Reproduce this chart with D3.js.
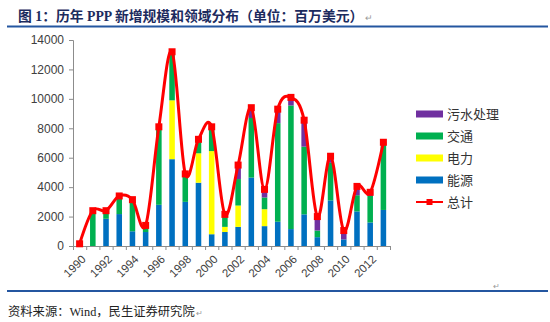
<!DOCTYPE html>
<html>
<head>
<meta charset="utf-8">
<script src="https://cdn.jsdelivr.net/npm/d3@7"></script>
<style>
  html, body { margin: 0; padding: 0; background: #fff; }
  svg { display: block; }
</style>
</head>
<body>
<svg id="chart" width="550" height="322"></svg>
<script>
// Years on the category axis
const years = d3.range(1990, 2014).map(String);

// Annual new PPP investment by sector (USD million)
const energy    = [0, 0, 1850, 2170, 1000, 950, 2800, 5900, 3000, 4300, 800, 950, 1300, 4650, 1350, 1650, 1150, 2150, 600, 3100, 450, 2350, 1600, 2450];
const power     = [0, 0, 0, 0, 0, 0, 0, 4000, 0, 2000, 5650, 350, 1450, 0, 1150, 0, 0, 0, 0, 0, 0, 0, 0, 0];
const transport = [0, 2300, 450, 1200, 2150, 400, 5300, 3300, 1700, 900, 1600, 700, 1800, 4050, 800, 6700, 8400, 4600, 450, 2550, 0, 1100, 1800, 4550];
const sewage    = [0, 0, 0, 0, 0, 0, 0, 0, 200, 0, 0, 100, 900, 650, 500, 900, 550, 1800, 900, 400, 550, 550, 200, 100];
const total     = [150, 2400, 2400, 3400, 3150, 1400, 8100, 13200, 4900, 7250, 8100, 2150, 5500, 9400, 3850, 9300, 10100, 8550, 2000, 6100, 1050, 4050, 3650, 7050];

const yTicks = [0, 2000, 4000, 6000, 8000, 10000, 12000, 14000];
const xLabels = years.filter((d, i) => i % 2 === 0);

const seriesNames = ["能源", "电力", "交通", "污水处理"];
const seriesColors = { "能源": "#0070C0", "电力": "#FFFF00", "交通": "#00B050", "污水处理": "#7030A0" };
const totalName = "总计";

const rows = years.map((y, i) => ({
  year: y,
  "能源": energy[i], "电力": power[i], "交通": transport[i], "污水处理": sewage[i],
  total: total[i]
}));

const svg = d3.select("#chart");
const cjk = "'Noto Sans CJK SC', 'Liberation Serif', serif";
const latin = "'Liberation Sans', Arial, sans-serif";
const serif = "'Liberation Serif', 'Noto Sans CJK SC', serif";

// Title with paragraph mark
const title = svg.append("text")
  .attr("x", 18).attr("y", 21)
  .attr("font-family", serif)
  .attr("font-weight", "bold")
  .attr("font-size", 13.8)
  .attr("fill", "#1c2b5e");
title.append("tspan").text("图 1：历年 PPP 新增规模和领域分布（单位：百万美元）");
title.append("tspan").attr("dx", 2).attr("font-family", latin).attr("font-weight", "normal")
  .attr("font-size", 9).attr("fill", "#999").text("↵");

// Rules
svg.append("line")
  .attr("x1", 7).attr("x2", 548).attr("y1", 26.5).attr("y2", 26.5)
  .attr("stroke", "#2456a0").attr("stroke-width", 1.8);
svg.append("line")
  .attr("x1", 7).attr("x2", 548).attr("y1", 291).attr("y2", 291)
  .attr("stroke", "#2456a0").attr("stroke-width", 1.8);
svg.append("text")
  .attr("x", 493).attr("y", 289)
  .attr("font-family", latin).attr("font-size", 8).attr("fill", "#999")
  .text("↵");

// Source note
const src = svg.append("text")
  .attr("x", 8).attr("y", 316)
  .attr("font-family", serif)
  .attr("font-size", 12.3)
  .attr("fill", "#222");
src.append("tspan").text("资料来源：Wind，民生证券研究院");
src.append("tspan").attr("dx", 1).attr("font-family", latin)
  .attr("font-size", 8).attr("fill", "#999").text("↵");

// Scales
const x = d3.scaleBand().domain(years).range([73, 390]).paddingInner(0.58).paddingOuter(0.29);
const y = d3.scaleLinear().domain([0, 14000]).range([246, 40]);
const step = x.step();
const xc = d => x(d) + x.bandwidth() / 2;

// Axes
const axisColor = "#8c8c8c";
const yAxis = svg.append("g").attr("transform", "translate(73,0)")
  .call(d3.axisLeft(y).tickValues(yTicks).tickSize(4).tickFormat(d3.format("d")));
yAxis.select(".domain").attr("stroke", axisColor);
yAxis.selectAll(".tick line").attr("stroke", axisColor);
yAxis.selectAll(".tick text")
  .attr("font-family", latin).attr("font-size", 12).attr("fill", "#404040").attr("x", -9);

// Stacked bars
const stack = d3.stack().keys(seriesNames);
const layers = stack(rows);
svg.append("g").selectAll("g")
  .data(layers).join("g")
  .attr("fill", d => seriesColors[d.key])
  .selectAll("rect")
  .data(d => d).join("rect")
  .attr("x", d => x(d.data.year))
  .attr("width", x.bandwidth())
  .attr("y", d => y(d[1]))
  .attr("height", d => Math.max(0, y(d[0]) - y(d[1])));

// X axis line with ticks at category boundaries
const xAxisG = svg.append("g");
xAxisG.append("line")
  .attr("x1", 73).attr("x2", 390).attr("y1", y(0) + 0.5).attr("y2", y(0) + 0.5)
  .attr("stroke", axisColor);
xAxisG.selectAll("line.tk")
  .data(years.concat(["end"])).join("line")
  .attr("class", "tk")
  .attr("x1", (d, i) => 73 + i * step + 0.5)
  .attr("x2", (d, i) => 73 + i * step + 0.5)
  .attr("y1", y(0)).attr("y2", y(0) + 4)
  .attr("stroke", axisColor);
xAxisG.selectAll("text")
  .data(xLabels).join("text")
  .attr("transform", d => `translate(${xc(d) + 4},${y(0) + 11}) rotate(-45)`)
  .attr("text-anchor", "end")
  .attr("dy", "0.35em")
  .attr("font-family", latin).attr("font-size", 11.5).attr("fill", "#404040")
  .text(d => d);

// Smoothed total line with square markers
const line = d3.line()
  .x(d => xc(d.year))
  .y(d => y(d.total))
  .curve(d3.curveCardinal.tension(0));
svg.append("path")
  .datum(rows)
  .attr("d", line)
  .attr("fill", "none")
  .attr("stroke", "#FF0000")
  .attr("stroke-width", 3)
  .attr("stroke-linejoin", "round");
svg.append("g").selectAll("rect")
  .data(rows).join("rect")
  .attr("x", d => xc(d.year) - 3.5)
  .attr("y", d => y(d.total) - 3.5)
  .attr("width", 7).attr("height", 7)
  .attr("fill", "#FF0000");

// Legend
const legendItems = ["污水处理", "交通", "电力", "能源"];
const lg = svg.append("g");
legendItems.forEach((name, i) => {
  const cy = 114 + i * 22;
  lg.append("rect")
    .attr("x", 416).attr("y", cy - 3.5).attr("width", 27).attr("height", 7)
    .attr("fill", seriesColors[name]);
  lg.append("text")
    .attr("x", 447).attr("y", cy).attr("dy", "0.36em")
    .attr("font-family", cjk).attr("font-size", 13).attr("fill", "#333")
    .text(name);
});
const ty = 114 + 4 * 22;
lg.append("line")
  .attr("x1", 416).attr("x2", 443).attr("y1", ty).attr("y2", ty)
  .attr("stroke", "#FF0000").attr("stroke-width", 2);
lg.append("rect")
  .attr("x", 426.5).attr("y", ty - 3).attr("width", 6).attr("height", 6)
  .attr("fill", "#FF0000");
lg.append("text")
  .attr("x", 447).attr("y", ty).attr("dy", "0.36em")
  .attr("font-family", cjk).attr("font-size", 13).attr("fill", "#333")
  .text(totalName);
</script>
</body>
</html>
